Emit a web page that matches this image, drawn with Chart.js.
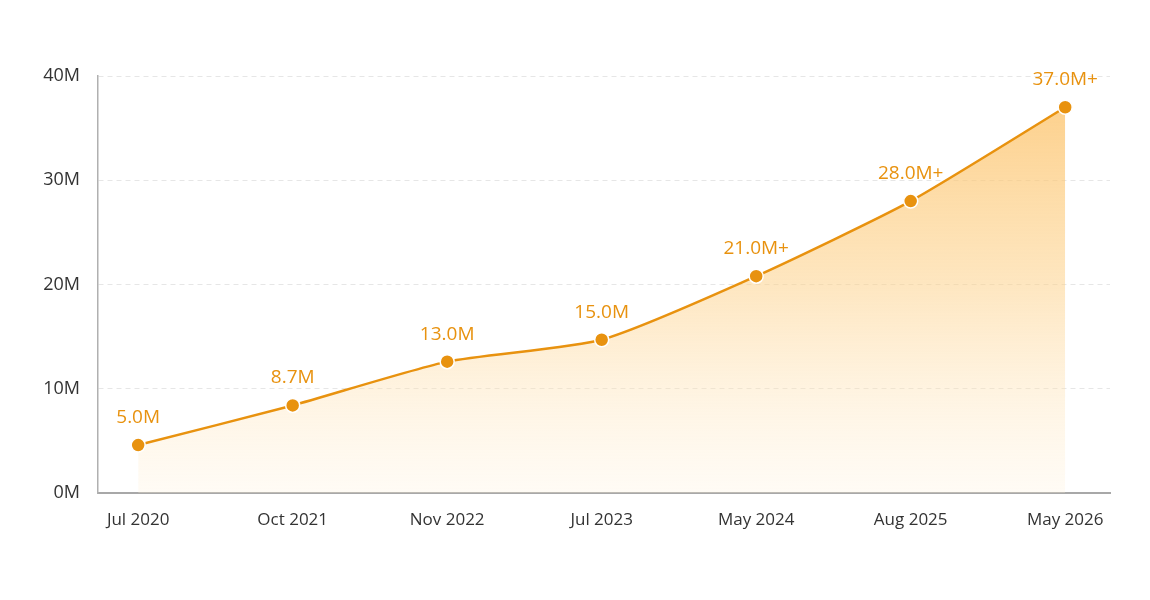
<!DOCTYPE html>
<html>
<head>
<meta charset="utf-8">
<script src="https://cdn.jsdelivr.net/npm/chart.js@4.4.1/dist/chart.umd.min.js"></script>
<style>
  html, body { margin: 0; padding: 0; background: #fff; }
  #wrap { width: 1150px; height: 600px; }
</style>
</head>
<body>
<div id="wrap"><canvas id="c" width="1150" height="600"></canvas></div>
<script>
// categories, values (millions) and the labels printed above each point
var categories = ['Jul 2020', 'Oct 2021', 'Nov 2022', 'Jul 2023', 'May 2024', 'Aug 2025', 'May 2026'];
var users = [4.6, 8.4, 12.6, 14.7, 20.8, 28.0, 37.0];
var pointLabels = ['5.0M', '8.7M', '13.0M', '15.0M', '21.0M+', '28.0M+', '37.0M+'];
var yTicks = [0, 10, 20, 30, 40];

var ORANGE = '#E8920F';
var FONT = '"Open Sans", "Noto Sans", sans-serif';

// draws the value text above every point
var labelPlugin = {
    id: 'pointText',
    afterDatasetsDraw: function (chart) {
        var ctx = chart.ctx;
        var meta = chart.getDatasetMeta(0);
        ctx.save();
        ctx.font = '19px ' + FONT;
        ctx.fillStyle = ORANGE;
        ctx.textAlign = 'center';
        ctx.textBaseline = 'bottom';
        meta.data.forEach(function (pt, i) {
            ctx.fillText(pointLabels[i], pt.x, pt.y - 18);
        });
        ctx.restore();
    }
};

var data = users.map(function (v, i) { return { x: i, y: v }; });

new Chart(document.getElementById('c'), {
    type: 'line',
    data: {
        datasets: [{
            data: data,
            borderColor: ORANGE,
            borderWidth: 2.5,
            tension: 0.2,
            fill: 'origin',
            backgroundColor: function (context) {
                var area = context.chart.chartArea;
                if (!area) return 'rgba(252,200,120,0.5)';
                var g = context.chart.ctx.createLinearGradient(0, area.top, 0, area.bottom);
                g.addColorStop(0, 'rgba(252,192,100,0.8)');
                g.addColorStop(0.5, 'rgba(253,210,140,0.55)');
                g.addColorStop(1, 'rgba(255,240,215,0.25)');
                return g;
            },
            pointRadius: 7,
            pointHoverRadius: 7,
            pointBackgroundColor: ORANGE,
            pointBorderColor: '#ffffff',
            pointBorderWidth: 1.5
        }]
    },
    options: {
        responsive: false,
        animation: false,
        layout: { padding: { top: 76, right: 40, left: 0, bottom: 0 } },
        plugins: {
            legend: { display: false },
            tooltip: { enabled: false }
        },
        scales: {
            x: {
                type: 'linear',
                min: -0.26,
                max: 6.29,
                afterBuildTicks: function (scale) {
                    scale.ticks = categories.map(function (c, i) { return { value: i }; });
                },
                afterFit: function (scale) { scale.height = 107; },
                ticks: {
                    callback: function (v) { return categories[v]; },
                    color: '#333333',
                    font: { family: FONT, size: 17 },
                    padding: 17,
                    maxRotation: 0,
                    autoSkip: false
                },
                grid: { display: false, drawTicks: false },
                border: { display: true, color: '#a8a8a8', width: 2 }
            },
            y: {
                min: 0,
                max: 40,
                afterBuildTicks: function (scale) {
                    scale.ticks = yTicks.map(function (v) { return { value: v }; });
                },
                afterFit: function (scale) { scale.width = 98; },
                ticks: {
                    callback: function (v) { return v + 'M'; },
                    color: '#333333',
                    font: { family: FONT, size: 18 },
                    padding: 18
                },
                grid: { color: '#e6e6e6', drawTicks: false, lineWidth: 1 },
                border: { display: true, color: '#b0b0b0', width: 1.5, dash: [5, 4] }
            }
        }
    },
    plugins: [labelPlugin]
});
</script>
</body>
</html>
